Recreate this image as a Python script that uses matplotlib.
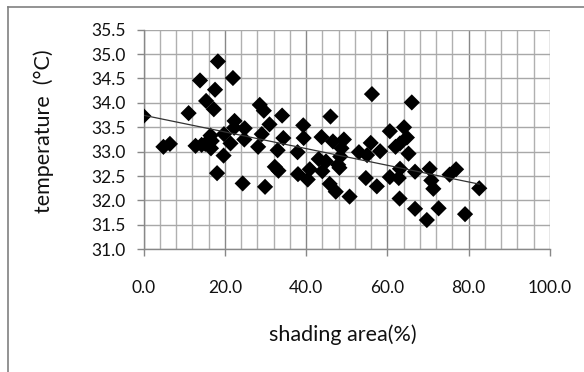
import numpy as np
import matplotlib
matplotlib.use("Agg")
import matplotlib.pyplot as plt
from matplotlib.lines import Line2D

shading = [0.0, 4.9, 6.5, 11.1, 12.8, 14.3, 15.2, 13.9, 15.4, 16.5, 16.8, 16.6, 17.3, 17.6, 18.3,
           18.1, 19.7, 19.8, 21.4, 22.0, 22.4, 22.3, 24.9, 24.8, 24.4, 28.2, 28.6, 29.6, 29.1, 29.9,
           31.0, 34.1, 34.4, 33.0, 32.3, 33.2, 37.9, 39.3, 39.4, 38.0, 40.4, 40.9, 43.8, 43.1, 44.9,
           44.0, 46.0, 46.6, 49.3, 48.7, 48.4, 47.9, 48.2, 45.8, 47.3, 50.7, 53.0, 55.0, 56.2, 55.9,
           58.2, 54.7, 57.4, 60.6, 64.1, 64.8, 63.1, 62.0, 65.2, 66.0, 63.1, 66.8, 60.6, 62.8, 70.4,
           70.8, 71.3, 75.3, 76.9, 82.6, 63.0, 66.8, 69.7, 72.6, 79.1]
temperature = [33.73, 33.10, 33.16, 33.79, 33.12, 33.14, 33.16, 34.46, 34.04, 33.33, 33.22, 33.07, 33.87, 34.27, 34.85,
               32.56, 32.92, 33.36, 33.17, 34.51, 33.63, 33.49, 33.48, 33.25, 32.35, 33.10, 33.96, 33.84, 33.36, 32.28,
               33.56, 33.74, 33.28, 33.03, 32.69, 32.61, 32.99, 33.54, 33.28, 32.54, 32.43, 32.64, 33.30, 32.85, 32.80,
               32.60, 33.72, 33.21, 33.25, 33.07, 32.90, 32.73, 32.67, 32.34, 32.18, 32.08, 32.99, 32.93, 34.18, 33.18,
               33.01, 32.46, 32.29, 33.42, 33.50, 33.29, 33.17, 33.10, 32.96, 34.01, 32.65, 32.59, 32.48, 32.46, 32.65,
               32.41, 32.24, 32.53, 32.64, 32.25, 32.04, 31.83, 31.60, 31.84, 31.72]

x_ticks = [0, 20, 40, 60, 80, 100]
x_tick_labels = ["0.0", "20.0", "40.0", "60.0", "80.0", "100.0"]
y_ticks = [31.0, 31.5, 32.0, 32.5, 33.0, 33.5, 34.0, 34.5, 35.0, 35.5]
y_tick_labels = ["31.0", "31.5", "32.0", "32.5", "33.0", "33.5", "34.0", "34.5", "35.0", "35.5"]

plt.rcParams['font.family'] = ['Lato', 'DejaVu Sans']

W, H = 584, 372
fig = plt.figure(figsize=(W / 100, H / 100), dpi=100)
fig.patch.set_facecolor("white")

# outer chart border (left and top visible)
fig.add_artist(Line2D([8 / W, 8 / W], [0, 1 - 7 / H], transform=fig.transFigure, color="#808080", lw=1.2))
fig.add_artist(Line2D([8 / W, 1], [1 - 7 / H, 1 - 7 / H], transform=fig.transFigure, color="#808080", lw=1.2))

left, right = 143.5 / W, 550 / W
bottom, top = 1 - 249.3 / H, 1 - 29.7 / H
ax = fig.add_axes([left, bottom, right - left, top - bottom])

x = np.array(shading)
y = np.array(temperature)

# gridlines
for xv in np.arange(0, 101, 4):
    major = (xv % 20 == 0)
    ax.axvline(xv, color="#888888" if major else "#b0b0b0", lw=1.0, zorder=0)
for yv in y_ticks:
    ax.axhline(yv, color="#a8a8a8", lw=1.0, zorder=0)

ax.scatter(x, y, marker="D", s=68, color="black", edgecolors="none", zorder=3)

coef = np.polyfit(x, y, 1)
xl = np.array([x.min(), x.max()])
ax.plot(xl, np.polyval(coef, xl), color="#333333", lw=0.9, zorder=4)

ax.set_xlim(0, 100)
ax.set_ylim(31.0, 35.5)
ax.set_xticks(x_ticks)
ax.set_xticklabels(x_tick_labels)
ax.set_yticks(y_ticks)
ax.set_yticklabels(y_tick_labels)
ax.tick_params(axis="both", direction="out", length=5, width=1, color="#888888",
               labelsize=12.5, labelcolor="#111111")
ax.tick_params(axis="x", pad=17)
ax.tick_params(axis="y", pad=8)

for s in ["top", "right"]:
    ax.spines[s].set_visible(False)
for s in ["left", "bottom"]:
    ax.spines[s].set_color("#888888")
    ax.spines[s].set_linewidth(1.0)

ax.set_xlabel("shading area(%)", fontsize=15.5, color="#111111")
ax.set_ylabel("temperature  (\u00b0C)", fontsize=15.5, color="#111111")
ax.xaxis.set_label_coords((343 - 143.5) / (550 - 143.5), -(335 - 249.3) / (249.3 - 29.7), transform=ax.transAxes)
ax.yaxis.set_label_coords(-(143.5 - 44) / (550 - 143.5), (249.3 - 131) / (249.3 - 29.7), transform=ax.transAxes)
ax.xaxis.label.set_va("center")
ax.yaxis.label.set_va("center")

fig.savefig("out.png", dpi=100, facecolor="white")
